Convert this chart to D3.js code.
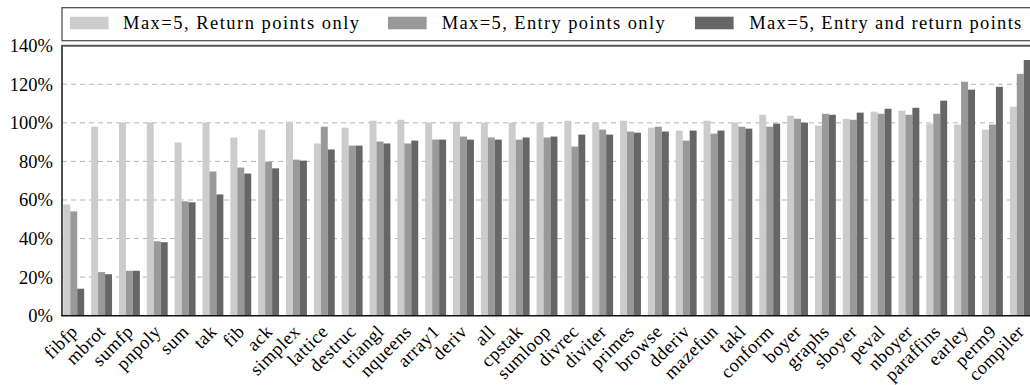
<!DOCTYPE html>
<html>
<head>
<meta charset="utf-8">
<script src="https://cdn.jsdelivr.net/npm/d3@7"></script>
<style>
  html, body { margin: 0; padding: 0; background: #fff; overflow: hidden; }
  svg { display: block; }
</style>
</head>
<body>
<svg id="chart" width="1030" height="385" font-family="Liberation Serif" font-size="18.5"></svg>
<script>
// Benchmarks, ordered by the combined-strategy result
const categories = ["fibfp", "mbrot", "sumfp", "pnpoly", "sum", "tak", "fib", "ack", "simplex",
  "lattice", "destruc", "triangl", "nqueens", "array1", "deriv", "all", "cpstak", "sumloop",
  "divrec", "diviter", "primes", "browse", "dderiv", "mazefun", "takl", "conform", "boyer",
  "graphs", "sboyer", "peval", "nboyer", "paraffins", "earley", "perm9", "compiler"];

// Relative run time (%) for each strategy
const returnOnly = [57.7, 98.0, 100.1, 100.1, 89.8, 100.1, 92.4, 96.5, 100.6,
  89.3, 97.5, 101.1, 101.6, 100.1, 100.6, 100.1, 100.1, 100.1,
  101.1, 100.1, 101.1, 97.5, 96.0, 101.1, 100.1, 104.2, 103.7,
  98.5, 102.1, 105.8, 106.3, 99.6, 99.1, 96.5, 108.4];
const entryOnly = [54.1, 22.6, 23.3, 38.6, 59.3, 74.8, 76.8, 79.9, 80.9,
  98.0, 88.2, 90.3, 89.3, 91.3, 92.9, 92.4, 91.3, 92.4,
  87.7, 96.5, 95.5, 98.0, 90.8, 94.4, 98.0, 98.0, 102.1,
  104.7, 101.6, 104.7, 104.2, 104.7, 121.3, 99.1, 125.4];
const entryAndReturn = [14.0, 21.5, 23.3, 38.1, 58.8, 62.9, 73.7, 76.4, 80.4,
  86.2, 88.2, 89.3, 90.8, 91.3, 91.3, 91.3, 92.4, 92.9,
  93.9, 93.9, 94.9, 95.5, 96.0, 96.0, 97.0, 99.6, 100.1,
  104.2, 105.3, 107.3, 107.8, 111.5, 117.2, 118.7, 132.6];

const seriesNames = ["Max=5, Return points only", "Max=5, Entry points only", "Max=5, Entry and return points"];
const seriesColors = ["#cccccc", "#999999", "#666666"];
const yTicks = [0, 20, 40, 60, 80, 100, 120, 140];
const gridTicks = [20, 40, 60, 80, 100, 120];

const series = [returnOnly, entryOnly, entryAndReturn];

const FONT = "Liberation Serif";
const fontSize = 18.5;

const svg = d3.select("#chart");

const plotLeft = 62, plotRight = 1034, plotTop = 45.7, plotBottom = 315.7;

const x = d3.scaleBand()
  .domain(categories)
  .range([63.3, 1030.7])
  .paddingInner(0.25)
  .paddingOuter(0);

const xSub = d3.scaleBand()
  .domain(d3.range(series.length))
  .range([0, x.bandwidth()]);

const y = d3.scaleLinear()
  .domain([0, 140])
  .range([plotBottom, plotTop]);

// dashed horizontal grid behind the bars
svg.append("g")
  .selectAll("line")
  .data(gridTicks)
  .join("line")
  .attr("x1", plotLeft)
  .attr("x2", plotRight)
  .attr("y1", d => y(d))
  .attr("y2", d => y(d))
  .attr("stroke", "#b4b4b4")
  .attr("stroke-width", 1)
  .attr("stroke-dasharray", "5,4");

// grouped bars
const groups = svg.append("g")
  .selectAll("g")
  .data(categories)
  .join("g")
  .attr("transform", d => `translate(${x(d)},0)`);

groups.selectAll("rect")
  .data((d, i) => series.map((s, k) => ({ k, v: s[i] })))
  .join("rect")
  .attr("x", d => xSub(d.k))
  .attr("width", xSub.bandwidth())
  .attr("y", d => y(d.v))
  .attr("height", d => y(0) - y(d.v))
  .attr("fill", d => seriesColors[d.k]);

// y axis labels
const yAxis = d3.axisLeft(y)
  .tickValues(yTicks)
  .tickFormat(d => d + "%")
  .tickSize(0)
  .tickPadding(9);
const yg = svg.append("g")
  .attr("transform", `translate(${plotLeft},0)`)
  .call(yAxis)
  .attr("font-family", FONT)
  .attr("font-size", fontSize);
yg.select(".domain").remove();
yg.selectAll("text")
  .attr("font-family", FONT)
  .attr("font-size", fontSize)
  .attr("fill", "#000");

// x axis labels, rotated
const xAxis = d3.axisBottom(x).tickSize(0);
const xg = svg.append("g")
  .attr("transform", `translate(0,${plotBottom})`)
  .call(xAxis)
  .attr("font-family", FONT)
  .attr("font-size", fontSize);
xg.select(".domain").remove();
xg.selectAll("text")
  .attr("font-family", FONT)
  .attr("font-size", fontSize)
  .attr("letter-spacing", 0.5)
  .attr("fill", "#000")
  .attr("text-anchor", "end")
  .attr("x", 0)
  .attr("y", 0)
  .attr("dy", 0)
  .attr("transform", "translate(5,17) rotate(-45)");

// frame: left axis, bottom axis, top border
svg.append("line")
  .attr("x1", plotLeft).attr("x2", plotLeft)
  .attr("y1", plotTop).attr("y2", plotBottom)
  .attr("stroke", "#222").attr("stroke-width", 1.6);
svg.append("line")
  .attr("x1", plotLeft - 0.8).attr("x2", plotRight)
  .attr("y1", plotBottom).attr("y2", plotBottom)
  .attr("stroke", "#111").attr("stroke-width", 1.6);
svg.append("line")
  .attr("x1", plotLeft - 0.8).attr("x2", plotRight)
  .attr("y1", plotTop).attr("y2", plotTop)
  .attr("stroke", "#555").attr("stroke-width", 2);

// legend box above the plot
const legend = svg.append("g");
legend.append("rect")
  .attr("x", plotLeft)
  .attr("y", 7.7)
  .attr("width", 1100)
  .attr("height", 33)
  .attr("fill", "#fff")
  .attr("stroke", "#444")
  .attr("stroke-width", 1.2);

const swatchX = [70, 388, 695];
const labelX = [123, 441.7, 749.3];
const labelW = [236, 223, 272];
seriesNames.forEach((name, k) => {
  legend.append("rect")
    .attr("x", swatchX[k])
    .attr("y", 16.7)
    .attr("width", 38.6)
    .attr("height", 12.6)
    .attr("fill", seriesColors[k]);
  legend.append("text")
    .attr("x", labelX[k])
    .attr("y", 29.2)
    .attr("textLength", labelW[k])
    .attr("lengthAdjust", "spacing")
    .attr("font-family", FONT)
    .attr("font-size", 18.5)
    .attr("fill", "#000")
    .text(name);
});
</script>
</body>
</html>
